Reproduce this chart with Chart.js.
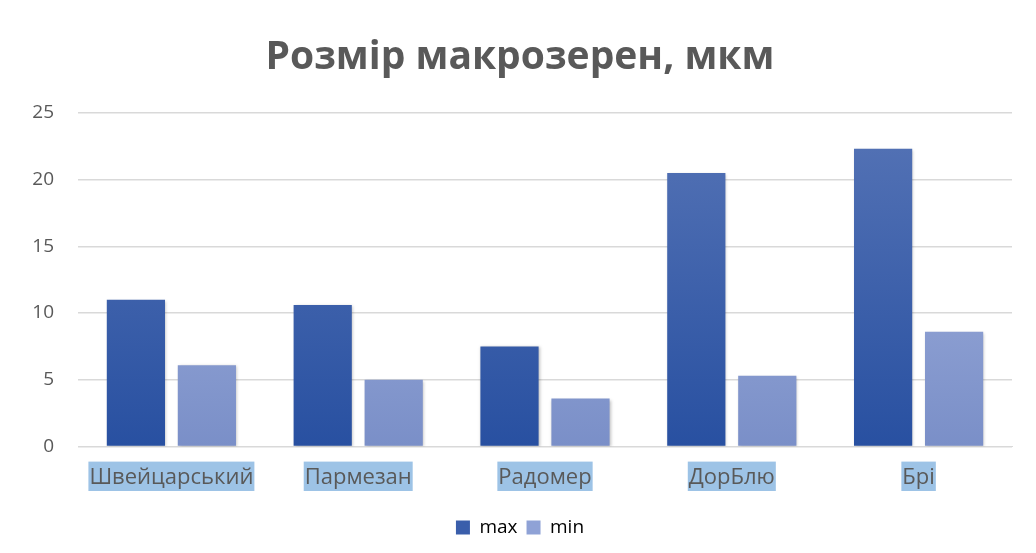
<!DOCTYPE html>
<html>
<head>
<meta charset="utf-8">
<script src="https://cdn.jsdelivr.net/npm/chart.js@4.4.0/dist/chart.umd.min.js"></script>
<style>
  html, body { margin: 0; padding: 0; background: #fff; }
  #wrap { width: 1036px; height: 553px; }
</style>
</head>
<body>
<div id="wrap"><canvas id="grainChart" width="1036" height="553"></canvas></div>
<script>
const categories = ['Швейцарський', 'Пармезан', 'Радомер', 'ДорБлю', 'Брі'];
const maxValues = [11.0, 10.6, 7.5, 20.5, 22.3];
const minValues = [6.1, 5.0, 3.6, 5.3, 8.6];
const yTicks = [0, 5, 10, 15, 20, 25];

document.addEventListener("DOMContentLoaded", () => {
    const el = document.getElementById('grainChart');

    function gradient(top, bottom) {
        return (ctx) => {
            const area = ctx.chart.chartArea;
            if (!area) return bottom;
            const g = ctx.chart.ctx.createLinearGradient(0, area.top, 0, area.bottom);
            g.addColorStop(0, top);
            g.addColorStop(1, bottom);
            return g;
        };
    }

    const barShadow = {
        id: 'barShadow',
        beforeDatasetsDraw(chart) {
            const c = chart.ctx;
            c.save();
            c.shadowColor = 'rgba(0,0,0,0.25)';
            c.shadowBlur = 3;
            c.shadowOffsetX = 1;
            c.shadowOffsetY = 1;
        },
        afterDatasetsDraw(chart) {
            chart.ctx.restore();
        }
    };

    new Chart(el, {
        type: 'bar',
        data: {
            labels: categories,
            datasets: [{
                label: 'max',
                data: maxValues,
                backgroundColor: gradient('#5674b6', '#2850a1'),
                categoryPercentage: 0.76,
                barPercentage: 0.82
            }, {
                label: 'min',
                data: minValues,
                backgroundColor: gradient('#a7b6e0', '#7a8fc8'),
                categoryPercentage: 0.76,
                barPercentage: 0.82
            }]
        },
        options: {
            responsive: false,
            animation: false,
            layout: { padding: { left: 28, right: 24, top: 0, bottom: 6 } },
            scales: {
                x: {
                    grid: { display: false, drawTicks: false },
                    border: { color: '#d9d9d9', width: 1 },
                    ticks: {
                        color: '#595959',
                        font: { family: 'Open Sans', size: 22 },
                        padding: 18,
                        showLabelBackdrop: true,
                        backdropColor: '#9dc3e6',
                        backdropPadding: { top: 3, bottom: 0, left: 1, right: 1 }
                    }
                },
                y: {
                    min: 0,
                    max: 25,
                    afterBuildTicks: (axis) => { axis.ticks = yTicks.map(v => ({ value: v })); },
                    afterFit: (axis) => { axis.width = 50; },
                    grid: { color: '#d9d9d9', lineWidth: 1.5, drawTicks: false },
                    border: { display: false },
                    ticks: {
                        color: '#595959',
                        font: { family: 'Open Sans', size: 19 },
                        padding: 24
                    }
                }
            },
            plugins: {
                title: {
                    display: true,
                    text: 'Розмір макрозерен, мкм',
                    color: '#595959',
                    font: { family: 'Open Sans', size: 39, weight: 'bold' },
                    padding: { top: 34, bottom: 32 }
                },
                legend: {
                    position: 'bottom',
                    labels: {
                        color: '#595959',
                        font: { family: 'Open Sans', size: 19 },
                        boxWidth: 14,
                        boxHeight: 14,
                        padding: 9,
                        generateLabels: (chart) => chart.data.datasets.map((ds, i) => ({
                            text: ds.label,
                            fillStyle: i === 0 ? '#3a5eab' : '#8fa2d6',
                            strokeStyle: 'rgba(0,0,0,0)',
                            lineWidth: 0,
                            datasetIndex: i
                        }))
                    }
                },
                tooltip: { enabled: false }
            }
        },
        plugins: [barShadow]
    });
});
</script>
</body>
</html>
